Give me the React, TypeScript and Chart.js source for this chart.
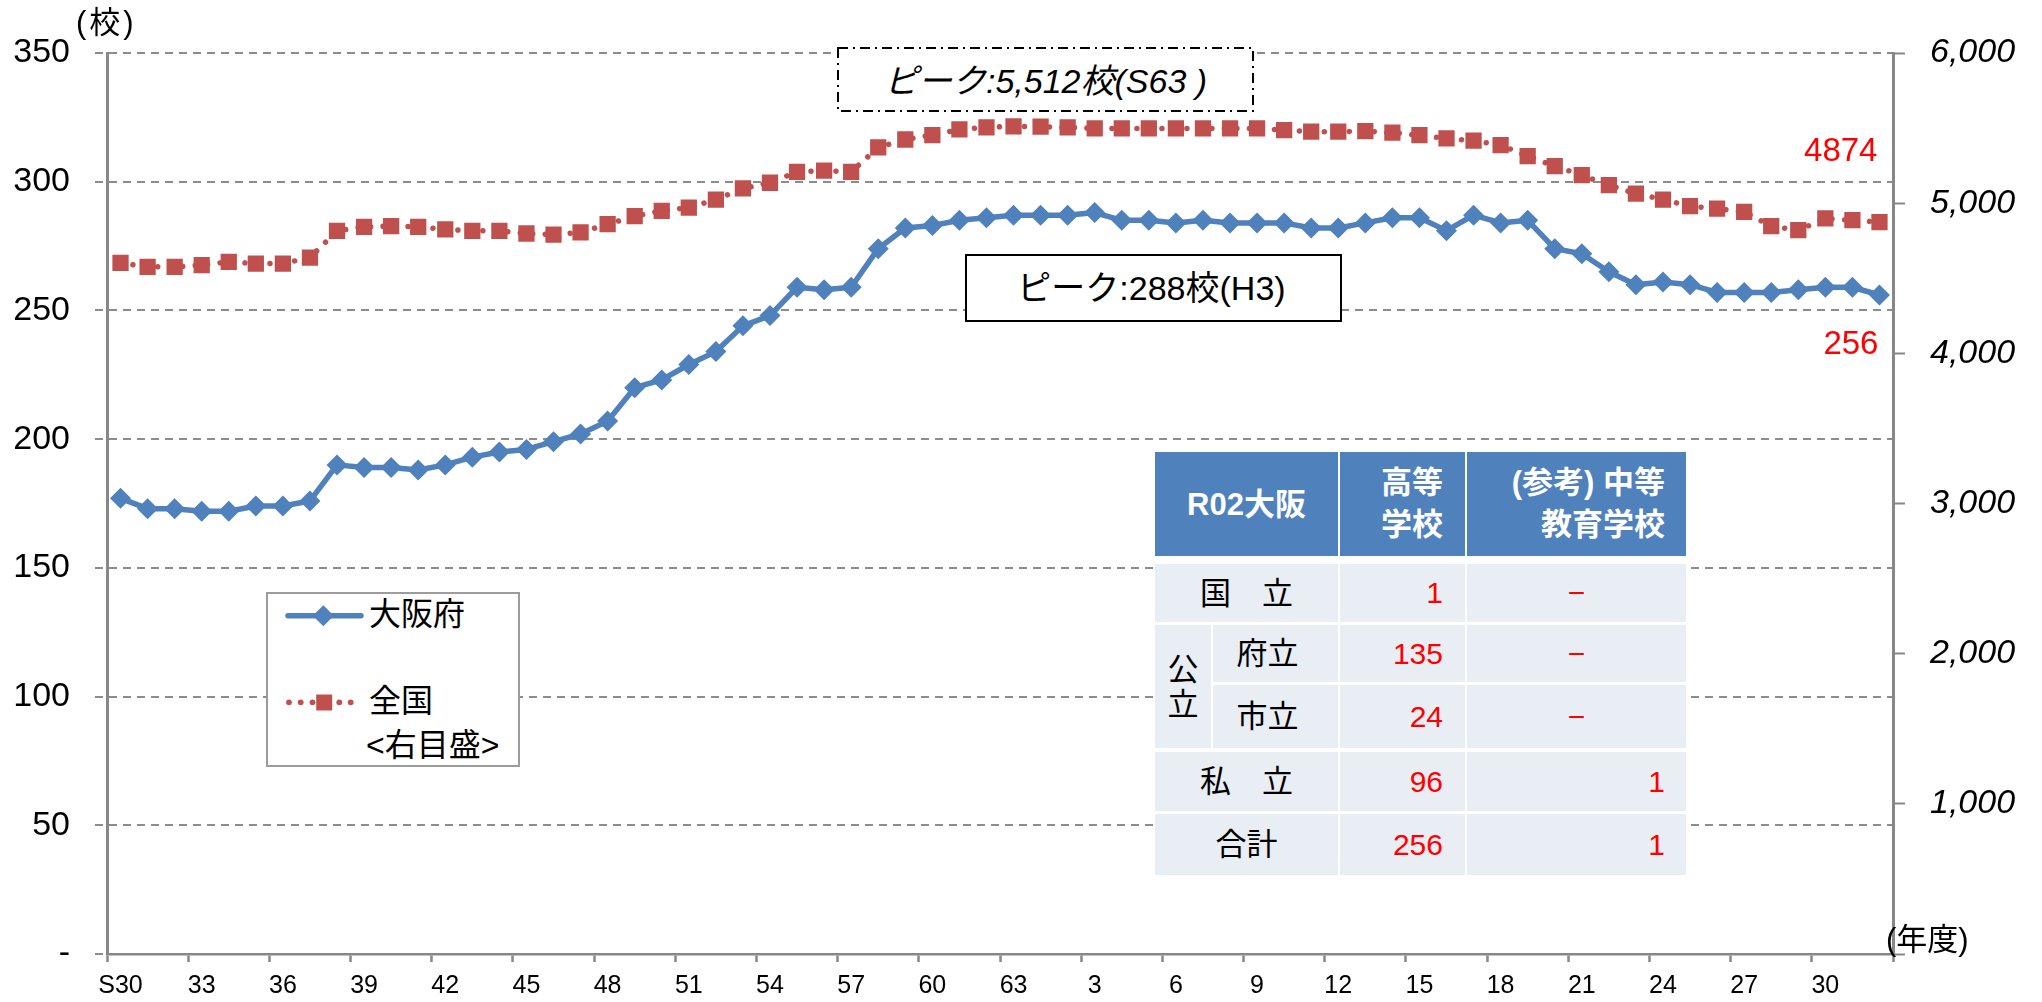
import React, { useEffect, useRef } from "react";
import { Chart, registerables } from "chart.js";

Chart.register(...registerables);

// ---------------- data ----------------
const categories = [
  "S30","S31","S32","S33","S34","S35","S36","S37","S38","S39",
  "S40","S41","S42","S43","S44","S45","S46","S47","S48","S49",
  "S50","S51","S52","S53","S54","S55","S56","S57","S58","S59",
  "S60","S61","S62","S63",
  "H1","H2","H3","H4","H5","H6","H7","H8","H9","H10",
  "H11","H12","H13","H14","H15","H16","H17","H18","H19","H20",
  "H21","H22","H23","H24","H25","H26","H27","H28","H29","H30",
  "R1","R2",
];

const xTickLabels = [
  "S30","33","36","39","42","45","48","51","54","57","60",
  "63","3","6","9","12","15","18","21","24","27","30",
];

const osakaSchools = [
  177,173,173,172,172,174,174,176,190,189,
  189,188,190,193,195,196,199,202,207,220,
  223,229,234,244,248,259,258,259,274,282,
  283,285,286,287,
  287,287,288,285,285,284,285,284,284,284,
  282,282,284,286,286,281,287,284,285,274,
  272,265,260,261,260,257,257,257,258,259,
  259,256,
];

const nationalSchools = [
  4602,4576,4576,4587,4609,4598,4598,4638,4816,4842,
  4847,4842,4825,4816,4816,4798,4791,4805,4860,4913,
  4949,4971,5024,5098,5136,5209,5216,5209,5371,5424,
  5453,5491,5505,5512,
  5509,5505,5498,5498,5498,5498,5498,5498,5498,5487,
  5476,5476,5480,5469,5453,5431,5416,5387,5313,5247,
  5187,5120,5064,5024,4980,4964,4942,4847,4820,4898,
  4887,4874,
];

const leftAxisMax = 350;
const leftAxisStep = 50;
const rightAxisMax = 6000;
const rightAxisStep = 1000;

const seriesNames = ["大阪府", "全国"];

const tableHeaders = ["R02大阪", ["高等", "学校"], ["(参考) 中等", "教育学校"]];
const tableRowLabels = ["国　立", "府立", "市立", "私　立", "合計"];
const highSchoolCounts = ["1", "135", "24", "96", "256"];
const secondaryCounts = ["−", "−", "−", "1", "1"];

// ---------------- styles ----------------
const FONT = '"Liberation Sans", "Noto Sans CJK JP", sans-serif';
const BLUE = "#4F81BD";
const RED = "#C0504D";
const AXIS = "#878787";
const GRID = "#8c8c8c";
const TABLE_HEAD = "#4F81BD";
const TABLE_BODY = "#E9EDF4";

const endLabelPlugin = {
  id: "endLabels",
  afterDatasetsDraw(chart: any) {
    const ctx = chart.ctx;
    const metaO = chart.getDatasetMeta(0);
    const metaN = chart.getDatasetMeta(1);
    const lastO = metaO.data[metaO.data.length - 1];
    const lastN = metaN.data[metaN.data.length - 1];
    ctx.save();
    ctx.fillStyle = "#FF0000";
    ctx.font = `33px ${FONT}`;
    ctx.textAlign = "right";
    ctx.textBaseline = "middle";
    ctx.fillText(String(nationalSchools[nationalSchools.length - 1]), lastN.x - 2, lastN.y - 70);
    ctx.fillText(String(osakaSchools[osakaSchools.length - 1]), lastO.x - 1, lastO.y + 50);
    ctx.restore();
  },
};

function Abs(props: any) {
  const { x, y, w, h, style, children } = props;
  return (
    <div
      style={{
        position: "absolute",
        left: x,
        top: y,
        width: w,
        height: h,
        boxSizing: "border-box",
        display: "flex",
        alignItems: "center",
        ...style,
      }}
    >
      {children}
    </div>
  );
}

export default function App() {
  const canvasRef = useRef<HTMLCanvasElement>(null);

  useEffect(() => {
    document.body.style.margin = "0";
    document.body.style.overflow = "hidden";
    const canvas = canvasRef.current;
    if (!canvas) return;
    const chart = new Chart(canvas, {
      type: "line",
      data: {
        labels: categories,
        datasets: [
          {
            label: seriesNames[0],
            data: osakaSchools,
            yAxisID: "y",
            borderColor: BLUE,
            backgroundColor: BLUE,
            borderWidth: 5.5,
            borderJoinStyle: "round",
            pointStyle: "rectRot",
            pointRadius: 10.5,
            pointBackgroundColor: BLUE,
            pointBorderColor: BLUE,
            pointBorderWidth: 0,
            tension: 0,
          },
          {
            label: seriesNames[1],
            data: nationalSchools,
            yAxisID: "y1",
            borderColor: RED,
            backgroundColor: RED,
            borderWidth: 5.5,
            borderDash: [0.001, 12.5],
            borderCapStyle: "round",
            pointStyle: "rect",
            pointRadius: 11.5,
            pointBackgroundColor: RED,
            pointBorderColor: RED,
            pointBorderWidth: 0,
            tension: 0,
          },
        ],
      },
      options: {
        animation: false,
        responsive: false,
        maintainAspectRatio: false,
        devicePixelRatio: 1,
        layout: { padding: { top: 53, left: 0, right: 0, bottom: 0 } },
        plugins: {
          legend: { display: false },
          tooltip: { enabled: false },
        },
        scales: {
          x: {
            type: "category",
            offset: true,
            grid: {
              display: true,
              offset: true,
              drawOnChartArea: false,
              drawTicks: true,
              tickLength: 8,
              tickWidth: 2.5,
              tickColor: (ctx: any) =>
                ctx.index === undefined || ctx.index % 3 === 0 ? AXIS : "rgba(0,0,0,0)",
            },
            border: { display: true, color: AXIS, width: 2.5 },
            ticks: {
              autoSkip: false,
              maxRotation: 0,
              minRotation: 0,
              padding: 9,
              color: "#000",
              font: { family: FONT, size: 25 },
              callback: (_v: any, i: number) => (i % 3 === 0 ? xTickLabels[i / 3] : ""),
            },
            afterFit: (s: any) => {
              s.height = 48;
            },
          },
          y: {
            type: "linear",
            position: "left",
            min: 0,
            max: leftAxisMax,
            grid: {
              color: GRID,
              lineWidth: 2,
              drawTicks: true,
              tickLength: 12,
              tickColor: GRID,
              tickWidth: 2,
              tickBorderDash: [8, 6],
            },
            border: { display: true, color: AXIS, width: 3, dash: [8, 6] },
            ticks: {
              stepSize: leftAxisStep,
              padding: 25,
              color: "#000",
              font: { family: FONT, size: 34 },
              callback: (v: any) => (Number(v) === 0 ? "-" : String(v)),
            },
            afterFit: (s: any) => {
              s.width = 107;
            },
          },
          y1: {
            type: "linear",
            position: "right",
            min: 0,
            max: rightAxisMax,
            grid: {
              drawOnChartArea: false,
              drawTicks: true,
              tickLength: 12,
              tickColor: AXIS,
              tickWidth: 2,
            },
            border: { display: true, color: AXIS, width: 3 },
            ticks: {
              stepSize: rightAxisStep,
              padding: 25,
              color: "#000",
              font: { family: FONT, size: 34, style: "italic" },
              callback: (v: any) => (Number(v) === 0 ? "" : Number(v).toLocaleString("en-US")),
            },
            afterFit: (s: any) => {
              s.width = 149;
            },
          },
        },
      } as any,
      plugins: [endLabelPlugin],
    } as any);
    return () => chart.destroy();
  }, []);

  const cellText = { fontSize: 31, color: "#000" };
  const numText = { fontSize: 30, color: "#FF0000" };

  const rows = [
    { y: 564, h: 58 },
    { y: 625, h: 57 },
    { y: 685, h: 63 },
    { y: 752, h: 59 },
    { y: 814, h: 61 },
  ];

  return (
    <div
      style={{
        position: "absolute",
        left: 0,
        top: 0,
        width: 2042,
        height: 1002,
        background: "#fff",
        overflow: "hidden",
        fontFamily: FONT,
      }}
    >
      <canvas
        ref={canvasRef}
        width={2042}
        height={1002}
        style={{ position: "absolute", left: 0, top: 0, width: 2042, height: 1002 }}
      />

      {/* axis unit labels */}
      <Abs x={76} y={4} w={80} h={37} style={{ fontSize: 31, letterSpacing: 3, lineHeight: 1 }}>
        (校)
      </Abs>
      <Abs x={1886} y={921} w={110} h={36} style={{ fontSize: 31, lineHeight: 1 }}>
        (年度)
      </Abs>

      {/* peak box national */}
      <div style={{ position: "absolute", left: 837, top: 47, width: 417, height: 65, background: "#fff" }}>
        <svg width={417} height={65} style={{ position: "absolute", left: 0, top: 0 }}>
          <rect
            x={1}
            y={1}
            width={415}
            height={63}
            fill="none"
            stroke="#000"
            strokeWidth={2}
            strokeDasharray="10 5 2 5"
          />
        </svg>
        <Abs
          x={0}
          y={0}
          w={417}
          h={65}
          style={{ justifyContent: "center", fontSize: 34, fontStyle: "italic", lineHeight: 1, paddingTop: 2 }}
        >
          ピーク:5,512校(S63 )
        </Abs>
      </div>

      {/* peak box osaka */}
      <Abs
        x={965}
        y={254}
        w={377}
        h={68}
        style={{
          background: "#fff",
          border: "2px solid #000",
          justifyContent: "center",
          fontSize: 34,
          lineHeight: 1,
          paddingRight: 4,
        }}
      >
        ピーク:288校(H3)
      </Abs>

      {/* legend */}
      <div
        style={{
          position: "absolute",
          left: 266,
          top: 592,
          width: 254,
          height: 175,
          boxSizing: "border-box",
          border: "2px solid #9c9c9c",
          background: "#fff",
        }}
      />
      <svg width={254} height={175} style={{ position: "absolute", left: 266, top: 592 }}>
        <line x1={22} y1={23.7} x2={95} y2={23.7} stroke={BLUE} strokeWidth={5.5} strokeLinecap="round" />
        <polygon points="46.8,23.7 57.3,13.2 67.8,23.7 57.3,34.2" fill={BLUE} />
        {[23, 34.7, 46.5, 73.3, 84.7].map((cx, i) => (
          <circle key={i} cx={cx} cy={110.3} r={2.9} fill={RED} />
        ))}
        <rect x={50.2} y={102.5} width={16} height={16} fill={RED} />
      </svg>
      <Abs x={369} y={596} w={140} h={36} style={{ fontSize: 32, lineHeight: 1 }}>
        {seriesNames[0]}
      </Abs>
      <Abs x={369} y={683} w={140} h={36} style={{ fontSize: 32, lineHeight: 1 }}>
        {seriesNames[1]}
      </Abs>
      <Abs x={366} y={727} w={150} h={36} style={{ fontSize: 32, lineHeight: 1 }}>
        {"<右目盛>"}
      </Abs>

      {/* table */}
      <div style={{ position: "absolute", left: 1155, top: 452, width: 531, height: 423, background: "#fff" }} />
      <Abs
        x={1155}
        y={452}
        w={183}
        h={104}
        style={{ background: TABLE_HEAD, color: "#fff", fontWeight: "bold", fontSize: 31, justifyContent: "center", lineHeight: 1 }}
      >
        {tableHeaders[0] as string}
      </Abs>
      <Abs
        x={1340}
        y={452}
        w={125}
        h={104}
        style={{
          background: TABLE_HEAD,
          color: "#fff",
          fontWeight: "bold",
          fontSize: 31,
          justifyContent: "flex-end",
          paddingRight: 22,
          lineHeight: "42px",
          textAlign: "right",
        }}
      >
        <div>
          {(tableHeaders[1] as string[]).map((t, i) => (
            <div key={i}>{t}</div>
          ))}
        </div>
      </Abs>
      <Abs
        x={1467}
        y={452}
        w={219}
        h={104}
        style={{
          background: TABLE_HEAD,
          color: "#fff",
          fontWeight: "bold",
          fontSize: 31,
          justifyContent: "flex-end",
          paddingRight: 21,
          lineHeight: "42px",
          textAlign: "right",
        }}
      >
        <div>
          {(tableHeaders[2] as string[]).map((t, i) => (
            <div key={i}>{t}</div>
          ))}
        </div>
      </Abs>

      {/* row label cells */}
      <Abs x={1155} y={rows[0].y} w={183} h={rows[0].h} style={{ ...cellText, background: TABLE_BODY, justifyContent: "center", lineHeight: 1 }}>
        {tableRowLabels[0]}
      </Abs>
      <Abs
        x={1155}
        y={625}
        w={56}
        h={123}
        style={{ ...cellText, background: TABLE_BODY, justifyContent: "center", lineHeight: "35px", textAlign: "center" }}
      >
        <div>
          <div>公</div>
          <div>立</div>
        </div>
      </Abs>
      <Abs x={1213} y={rows[1].y} w={125} h={rows[1].h} style={{ ...cellText, background: TABLE_BODY, justifyContent: "center", paddingRight: 16, lineHeight: 1 }}>
        {tableRowLabels[1]}
      </Abs>
      <Abs x={1213} y={rows[2].y} w={125} h={rows[2].h} style={{ ...cellText, background: TABLE_BODY, justifyContent: "center", paddingRight: 16, lineHeight: 1 }}>
        {tableRowLabels[2]}
      </Abs>
      <Abs x={1155} y={rows[3].y} w={183} h={rows[3].h} style={{ ...cellText, background: TABLE_BODY, justifyContent: "center", lineHeight: 1 }}>
        {tableRowLabels[3]}
      </Abs>
      <Abs x={1155} y={rows[4].y} w={183} h={rows[4].h} style={{ ...cellText, background: TABLE_BODY, justifyContent: "center", lineHeight: 1 }}>
        {tableRowLabels[4]}
      </Abs>

      {rows.map((r, i) => (
        <React.Fragment key={i}>
          <Abs
            x={1340}
            y={r.y}
            w={125}
            h={r.h}
            style={{ ...numText, background: TABLE_BODY, justifyContent: "flex-end", paddingRight: 22, lineHeight: 1 }}
          >
            {highSchoolCounts[i]}
          </Abs>
          <Abs
            x={1467}
            y={r.y}
            w={219}
            h={r.h}
            style={{
              ...numText,
              background: TABLE_BODY,
              justifyContent: secondaryCounts[i] === "−" ? "center" : "flex-end",
              paddingRight: secondaryCounts[i] === "−" ? 0 : 21,
              lineHeight: 1,
            }}
          >
            {secondaryCounts[i]}
          </Abs>
        </React.Fragment>
      ))}
    </div>
  );
}
